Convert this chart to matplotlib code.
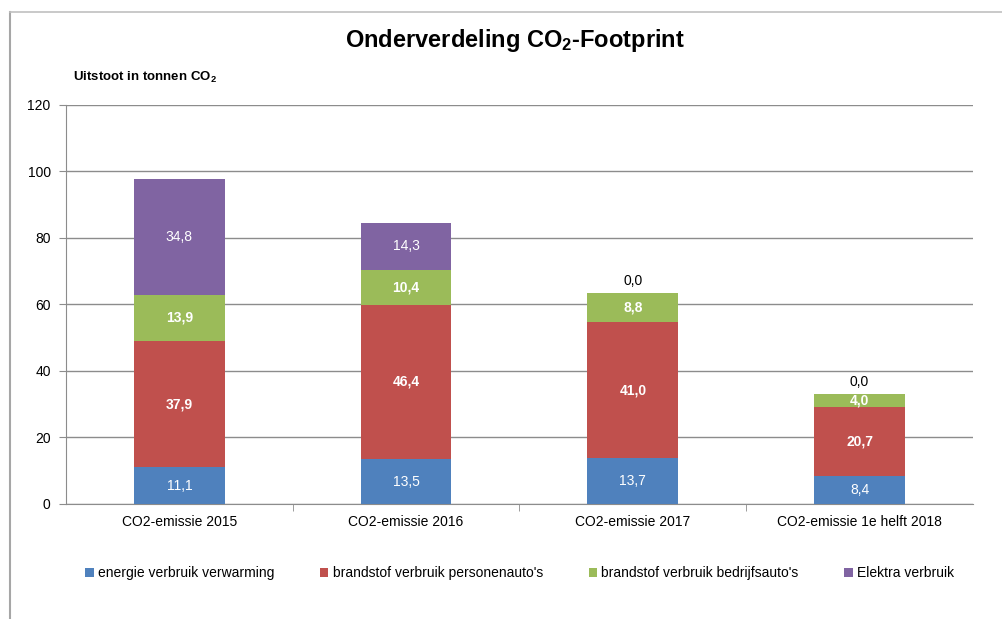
import matplotlib.pyplot as plt
import numpy as np

# data
categories = ["CO2-emissie 2015", "CO2-emissie 2016", "CO2-emissie 2017", "CO2-emissie 1e helft 2018"]
series_names = ["energie verbruik verwarming", "brandstof verbruik personenauto's",
                "brandstof verbruik bedrijfsauto's", "Elektra verbruik"]
verwarming = [11.1, 13.5, 13.7, 8.4]
personenautos = [37.9, 46.4, 41.0, 20.7]
bedrijfsautos = [13.9, 10.4, 8.8, 4.0]
elektra = [34.8, 14.3, 0.0, 0.0]
yticks = [0, 20, 40, 60, 80, 100, 120]

colors = ["#4F81BD", "#C0504D", "#9BBB59", "#8064A2"]
label_bold = [False, True, True, False]

plt.rcParams['font.family'] = ['Liberation Sans', 'DejaVu Sans']

fig = plt.figure(figsize=(10.03, 6.19), dpi=100)
ax = fig.add_axes([0.0658, 0.1858, 0.9042, 0.6446])

# outer chart border (left and top visible)
fig.add_artist(plt.Line2D([0.0095, 0.0095], [0, 0.98], color="#a6a6a6", lw=1.5, transform=fig.transFigure))
fig.add_artist(plt.Line2D([0.0095, 1.0], [0.98, 0.98], color="#c0c0c0", lw=1.2, transform=fig.transFigure))

x = np.arange(len(categories))
series = [verwarming, personenautos, bedrijfsautos, elektra]
bottom = np.zeros(len(categories))
for vals, name, col, bold in zip(series, series_names, colors, label_bold):
    vals = np.array(vals)
    ax.bar(x, vals, 0.4, bottom=bottom, color=col, label=name, zorder=3)
    for i, v in enumerate(vals):
        txt = f"{v:.1f}".replace(".", ",")
        if v > 0:
            ax.text(x[i], bottom[i] + v / 2, txt, ha="center", va="center", color="white",
                    fontsize=10, fontweight="bold" if bold else "normal", zorder=4)
        else:
            ax.text(x[i], bottom[i] + 1.5, txt, ha="center", va="bottom", color="black",
                    fontsize=10, zorder=4)
    bottom = bottom + vals

ax.set_xlim(-0.5, len(categories) - 0.5)
ax.set_ylim(0, 120)
ax.set_yticks(yticks)
ax.set_yticklabels([str(t) for t in yticks], fontsize=10)
ax.yaxis.grid(True, color="#8c8c8c", lw=1, zorder=0)
ax.set_axisbelow(True)

ax.set_xticks(x)
ax.set_xticklabels(categories, fontsize=10)
ax.tick_params(axis="x", length=0, pad=8)
ax.set_xticks(np.arange(0.5, len(categories) - 0.5, 1), minor=True)
ax.tick_params(axis="x", which="minor", length=5, color="#8c8c8c")
ax.tick_params(axis="y", length=5, color="#8c8c8c", pad=6)

for s in ["top", "right"]:
    ax.spines[s].set_visible(False)
for s in ["left", "bottom"]:
    ax.spines[s].set_color("#8c8c8c")

fig.text(0.513, 0.935, r"Onderverdeling $\mathregular{CO_2}$-Footprint", ha="center", va="center",
         fontsize=17, fontweight="bold")
fig.text(0.073, 0.875, r"Uitstoot in tonnen $\mathregular{CO_2}$", ha="left", va="center",
         fontsize=9.5, fontweight="bold")

fig.legend(loc="center", bbox_to_anchor=(0.518, 0.074), ncol=4, frameon=False, fontsize=10,
           handlelength=0.6, handleheight=0.6, handletextpad=0.3, columnspacing=3.3)

fig.savefig("out.png", dpi=100)
